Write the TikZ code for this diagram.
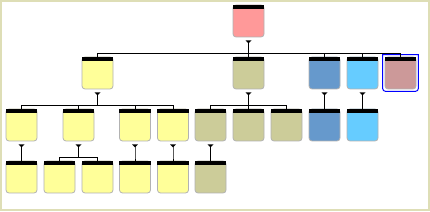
\documentclass[tikz,border=0pt]{standalone}
\usepackage{tikz}
\usetikzlibrary{positioning, calc}
\definecolor{framebeige}{RGB}{222,222,182}
\definecolor{rootpink}{HTML}{FF9999}
\definecolor{paleyellow}{HTML}{FFFF99}
\definecolor{olive}{HTML}{CCCC99}
\definecolor{steelblue}{HTML}{6699CC}
\definecolor{skyblue}{HTML}{66CCFF}
\definecolor{mauve}{HTML}{CC9999}
\tikzstyle{cell} = [
    rectangle,
    draw=black!30,
    line width=0.8pt,
    rounded corners=3pt,
    minimum width=31pt,
    minimum height=32pt,
    inner sep=0pt
]
\tikzstyle{header} = [
    fill=black
]
\tikzstyle{link} = [
    draw=black,
    line width=1pt
]
\tikzstyle{marker} = [
    fill=black
]

\begin{document}
\begin{tikzpicture}[x=1pt, y=1pt]
    \useasboundingbox (0,0) rectangle (430,211);
    \fill[white] (0,0) rectangle (430,211);
    \draw[framebeige, line width=2pt] (1,1) rectangle (429,210);

    % root
    \node[cell, fill=rootpink] (root) at (248.5,190) {};

    % first level
    \node[cell, fill=paleyellow] (y1) at (97.5,138) {};
    \node[cell, fill=olive] (o1) at (248.5,138) {};
    \node[cell, fill=steelblue] (b1) at (324.5,138) {};
    \node[cell, fill=skyblue] (s1) at (362.5,138) {};
    \node[cell, fill=mauve] (m1) at (400.5,138) {};

    % second level
    \node[cell, fill=paleyellow] (y21) at (21.5,86) {};
    \node[cell, fill=paleyellow] (y22) at (78.5,86) {};
    \node[cell, fill=paleyellow] (y23) at (135,86) {};
    \node[cell, fill=paleyellow] (y24) at (173,86) {};
    \node[cell, fill=olive] (o21) at (210.5,86) {};
    \node[cell, fill=olive] (o22) at (248.5,86) {};
    \node[cell, fill=olive] (o23) at (286.5,86) {};
    \node[cell, fill=steelblue] (b2) at (324.5,86) {};
    \node[cell, fill=skyblue] (s2) at (362.5,86) {};

    % third level
    \node[cell, fill=paleyellow] (y31) at (21.5,34) {};
    \node[cell, fill=paleyellow] (y32) at (59.5,34) {};
    \node[cell, fill=paleyellow] (y33) at (97.5,34) {};
    \node[cell, fill=paleyellow] (y34) at (135,34) {};
    \node[cell, fill=paleyellow] (y35) at (173,34) {};
    \node[cell, fill=olive] (o3) at (210.5,34) {};

    % black title bars
    \foreach \n in {root, y1, o1, b1, s1, m1, y21, y22, y23, y24, o21, o22, o23,
                    b2, s2, y31, y32, y33, y34, y35, o3}
        \fill[header] (\n.north west) rectangle ([yshift=-4.5pt]\n.north east);

    % selection frame
    \draw[blue, line width=1pt] ([shift={(-2,2)}]m1.north west)
        {[rounded corners=3pt] -- ([shift={(-2,-2)}]m1.south west)
        -- ([shift={(2,-2)}]m1.south east)} -- ([shift={(2,2)}]m1.north east) -- cycle;

    % markers
    \foreach \p in {root, y1, o1, b1, s1, y21, y22, y23, y24, o21}
        \fill[marker] ([shift={(-3,-3)}]\p.south) -- ++(6,0) -- ++(-3,-3) -- cycle;

    % connectors
    \foreach \p/\c in {root/y1, root/o1, root/b1, root/s1, root/m1,
                       y1/y21, y1/y22, y1/y23, y1/y24,
                       o1/o21, o1/o22, o1/o23, b1/b2, s1/s2,
                       y21/y31, y22/y32, y22/y33, y23/y34, y24/y35, o21/o3}
        \draw[link] ([yshift=-4pt]\p.south) -- ++(0,-12) -| (\c.north);
\end{tikzpicture}
\end{document}
